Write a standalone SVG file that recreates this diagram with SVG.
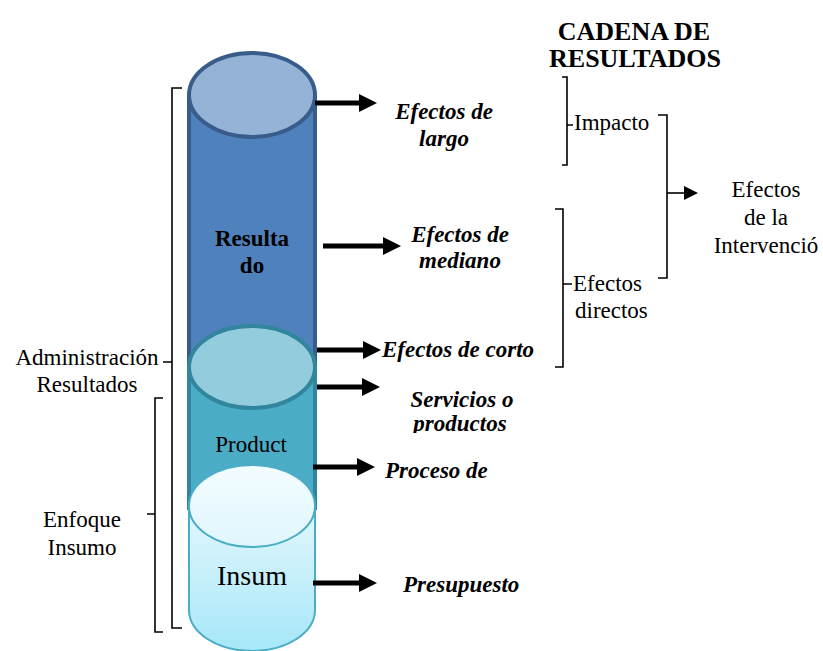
<svg xmlns="http://www.w3.org/2000/svg" width="823" height="651" viewBox="0 0 823 651">
<style>
.t{font-family:"Liberation Serif","Times New Roman",serif;font-size:23px;fill:#000}
.bi{font-family:"Liberation Serif","Times New Roman",serif;font-size:23px;font-weight:bold;font-style:italic;fill:#000}
.b{font-weight:bold}
.br{fill:none;stroke:#000;stroke-width:1.6}
.ar{stroke:#000;stroke-width:5;fill:none;marker-end:url(#head)}
</style>
<defs>
<marker id="head" markerUnits="userSpaceOnUse" viewBox="0 0 18 18" markerWidth="18" markerHeight="18" refX="0" refY="9" orient="auto">
<path d="M0,0 L18,9 L0,18 Z" fill="#000"/>
</marker>
<marker id="small" markerUnits="userSpaceOnUse" viewBox="0 0 14 14" markerWidth="14" markerHeight="14" refX="0" refY="7" orient="auto">
<path d="M0,0 L14,7 L0,14 Z" fill="#000"/>
</marker>
<linearGradient id="lightBody" x1="0" y1="0" x2="0" y2="1">
<stop offset="0" stop-color="#e3f7fd"/>
<stop offset="1" stop-color="#a6e7f8"/>
</linearGradient>
<linearGradient id="lightTop" x1="0" y1="0" x2="0" y2="1">
<stop offset="0" stop-color="#f2fcff"/>
<stop offset="1" stop-color="#dff6fd"/>
</linearGradient>
<clipPath id="clipProd"><rect x="380" y="412" width="160" height="21"/></clipPath>
</defs>

<g id="cyl-resultado">
<path d="M189,95 L189,375 L315,375 L315,95 Z" fill="#4f81bd"/>
<path d="M189,95 L189,375 M315,95 L315,375" stroke="#385d8a" stroke-width="4" fill="none"/>
<ellipse cx="252" cy="95" rx="63" ry="42" fill="#95b3d7" stroke="#385d8a" stroke-width="4"/>
<text class="t b" x="252" y="246" text-anchor="middle">Resulta</text>
<text class="t b" x="252" y="273" text-anchor="middle">do</text>
</g>

<g id="cyl-producto">
<path d="M189,367 L189,510 L315,510 L315,367 Z" fill="#4bacc6"/>
<path d="M189,367 L189,510 M315,367 L315,510" stroke="#31859c" stroke-width="4" fill="none"/>
<ellipse cx="252" cy="367" rx="63" ry="41" fill="#93cddd" stroke="#31859c" stroke-width="4"/>
<text class="t" x="251" y="452" text-anchor="middle">Product</text>
</g>

<g id="cyl-insumo">
<path d="M189,506 L189,610 A63,41 0 0 0 315,610 L315,506 Z" fill="url(#lightBody)" stroke="#4bacc6" stroke-width="2"/>
<ellipse cx="252" cy="506" rx="63" ry="41" fill="url(#lightTop)" stroke="#4bacc6" stroke-width="2"/>
<text class="t" x="252" y="585" text-anchor="middle" style="font-size:28px">Insum</text>
</g>

<g id="connectors">
<line class="ar" x1="315" y1="103" x2="359" y2="103"/>
<line class="ar" x1="323" y1="246" x2="383" y2="246"/>
<line class="ar" x1="317" y1="350" x2="363" y2="350"/>
<line class="ar" x1="317" y1="387" x2="362" y2="387"/>
<line class="ar" x1="313" y1="467" x2="357" y2="467"/>
<line class="ar" x1="313" y1="583" x2="359" y2="583"/>
<line x1="667" y1="193" x2="684" y2="193" stroke="#000" stroke-width="1.6" marker-end="url(#small)"/>
</g>

<g id="labels-middle">
<text class="bi" x="444" y="119" text-anchor="middle">Efectos de</text>
<text class="bi" x="444" y="146" text-anchor="middle">largo</text>
<text class="bi" x="460" y="242" text-anchor="middle">Efectos de</text>
<text class="bi" x="460" y="268" text-anchor="middle">mediano</text>
<text class="bi" x="382" y="357">Efectos de corto</text>
<text class="bi" x="462" y="407" text-anchor="middle">Servicios o</text>
<text class="bi" x="460" y="431" text-anchor="middle" clip-path="url(#clipProd)">productos</text>
<text class="bi" x="385" y="478">Proceso de</text>
<text class="bi" x="403" y="592">Presupuesto</text>
</g>

<g id="title">
<text class="t b" x="634" y="40" text-anchor="middle" style="font-size:26px">CADENA DE</text>
<text class="t b" x="635" y="67" text-anchor="middle" style="font-size:26px">RESULTADOS</text>
</g>

<g id="bracket-impacto">
<path class="br" d="M562,77 L567,77 L567,165 L562,165 M567,125 L573,125"/>
<text class="t" x="574" y="130">Impacto</text>
</g>

<g id="bracket-directos">
<path class="br" d="M555,209 L563,209 L563,367 L555,367 M563,284 L572,284"/>
<text class="t" x="573" y="291">Efectos</text>
<text class="t" x="575" y="318">directos</text>
</g>

<g id="bracket-efectos">
<path class="br" d="M658,115 L667,115 L667,278 L658,278"/>
<text class="t" x="766" y="197" text-anchor="middle">Efectos</text>
<text class="t" x="766" y="225" text-anchor="middle">de la</text>
<text class="t" x="766" y="253" text-anchor="middle">Intervenció</text>
</g>

<g id="bracket-admin">
<path class="br" d="M182,88 L172,88 L172,628 L182,628 M172,362 L163,362"/>
<text class="t" x="87" y="365" text-anchor="middle">Administración</text>
<text class="t" x="87" y="392" text-anchor="middle">Resultados</text>
</g>

<g id="bracket-enfoque">
<path class="br" d="M163,398 L155,398 L155,632 L163,632 M155,514 L147,514"/>
<text class="t" x="82" y="527" text-anchor="middle">Enfoque</text>
<text class="t" x="82" y="555" text-anchor="middle">Insumo</text>
</g>
</svg>
